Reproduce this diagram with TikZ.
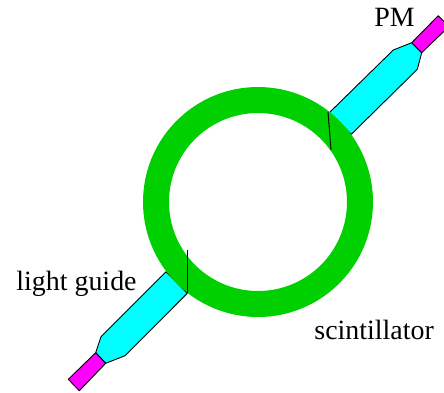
\documentclass[tikz,border=0pt]{standalone}
\usepackage{fontspec}
\setmainfont{Liberation Serif}
\definecolor{ringgreen}{RGB}{0,208,0}
\definecolor{guidecyan}{RGB}{0,255,255}
\definecolor{pmmagenta}{RGB}{255,0,255}
\begin{document}
\begin{tikzpicture}[x=1pt,y=-1pt,line width=0.9pt,line join=round]
\tikzset{label text/.style={anchor=base west,inner sep=0pt,font=\fontsize{27.9}{30}\selectfont}}
\useasboundingbox (0,0) rectangle (444,392);
\def\Rout{115}
\def\Rin{89}
% light guide upper right
\draw[fill=guidecyan] (329.3,112.7) -- (393.3,50) -- (411.7,42.7) -- (421.7,52.7) -- (417.3,69.3) -- (351.3,134.3) -- cycle;
\draw[fill=pmmagenta] (411.7,42.7) -- (438.3,15.7) -- (449,26.5) -- (421.7,52.7) -- cycle;
% light guide lower left
\draw[fill=guidecyan] (166,271.7) -- (101,336.7) -- (95.7,352.7) -- (105.7,363.3) -- (125,355.7) -- (187.3,293.3) -- cycle;
\draw[fill=pmmagenta] (95.7,352.7) -- (68.3,379.3) -- (79.3,390.7) -- (105.7,363.3) -- cycle;
% ring
\fill[ringgreen,even odd rule] (258,202) circle[radius=\Rout] (258,202) circle[radius=\Rin];
% glue joints
\draw (328,112) -- (331,150);
\draw (187.3,250) -- (187.3,293.3);
% labels
\node[label text] (pm) at (374,26) {PM};
\node[label text] (guide) at (16,290) {light guide};
\node[label text] (scint) at (314,339) {scintillator};
\end{tikzpicture}
\end{document}
